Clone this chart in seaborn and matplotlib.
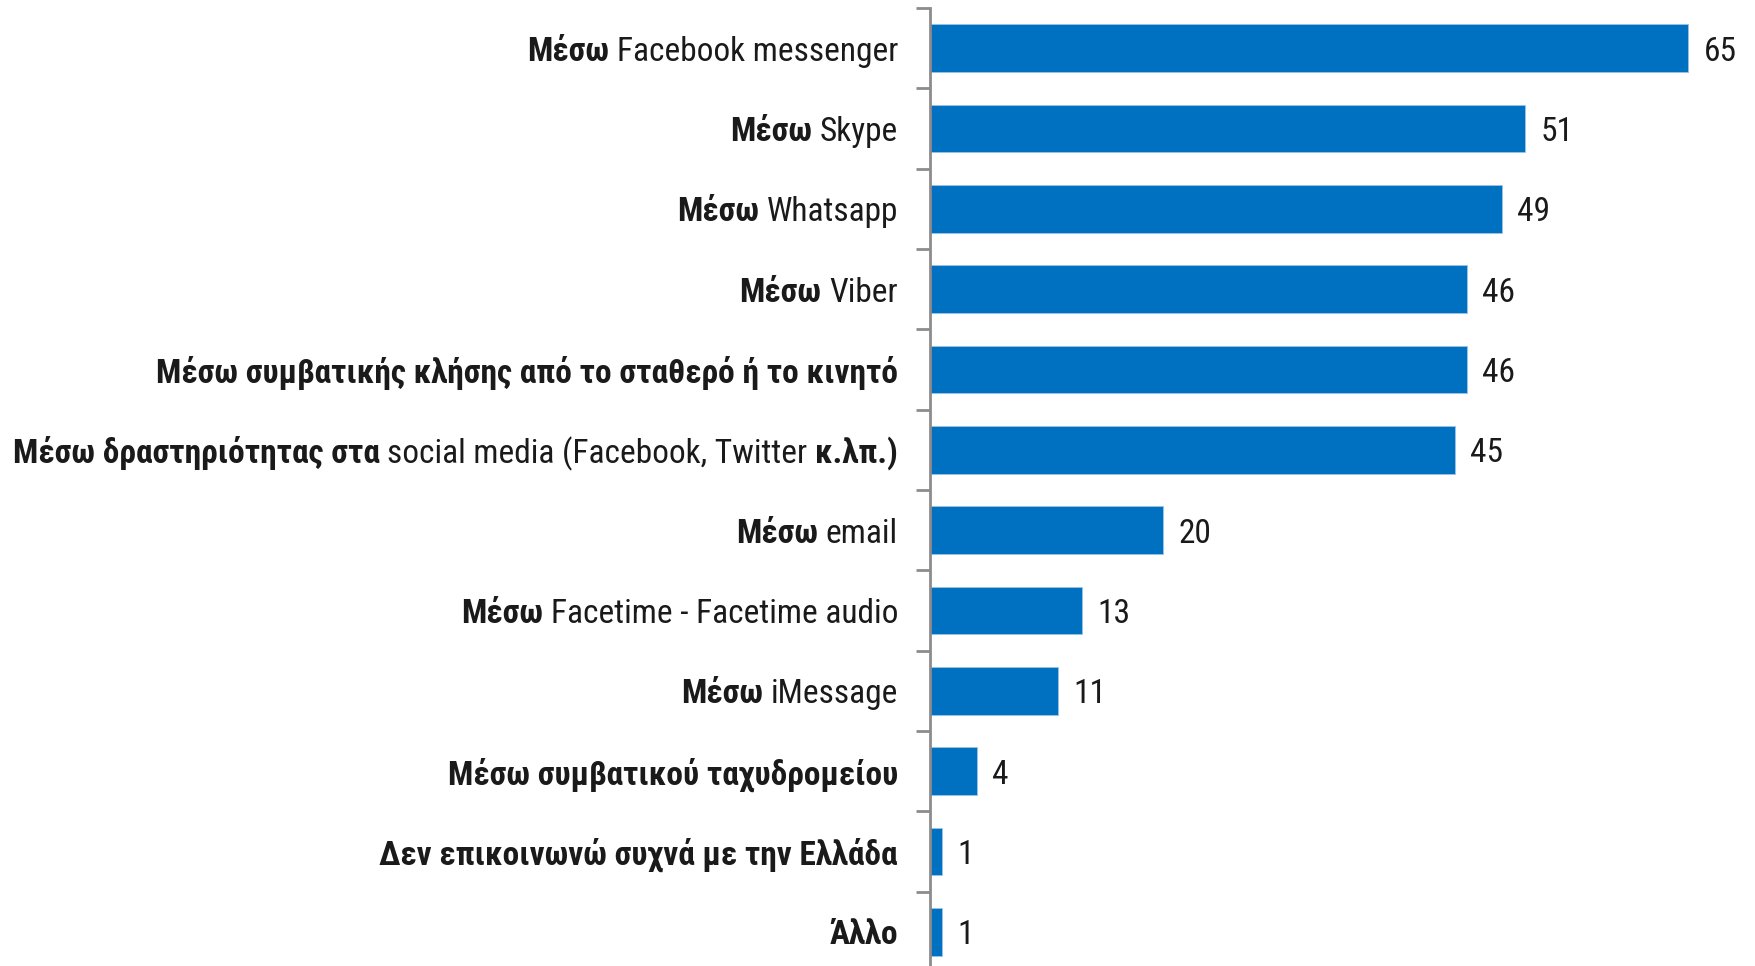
import matplotlib
matplotlib.use("Agg")
import matplotlib.pyplot as plt
import matplotlib.transforms as mtransforms
import seaborn as sns
import pandas as pd

# Data
segments = [
    [("Μέσω", True), ("Facebook messenger", False)],
    [("Μέσω", True), ("Skype", False)],
    [("Μέσω", True), ("Whatsapp", False)],
    [("Μέσω", True), ("Viber", False)],
    [("Μέσω συμβατικής κλήσης από το σταθερό ή το κινητό", True)],
    [("Μέσω δραστηριότητας στα", True), ("social media (Facebook, Twitter", False), ("κ.λπ.)", True)],
    [("Μέσω", True), ("email", False)],
    [("Μέσω", True), ("Facetime - Facetime audio", False)],
    [("Μέσω", True), ("iMessage", False)],
    [("Μέσω συμβατικού ταχυδρομείου", True)],
    [("Δεν επικοινωνώ συχνά με την Ελλάδα", True)],
    [("Άλλο", True)],
]
values = [65, 51, 49, 46, 46, 45, 20, 13, 11, 4, 1, 1]
categories = [" ".join(t for t, b in seg) for seg in segments]

df = pd.DataFrame({"category": categories, "value": values})

sns.set_style("white")
plt.rcParams["font.family"] = ["Roboto Condensed", "DejaVu Sans"]
FS = 24
BLUE = "#0070C0"

fig = plt.figure(figsize=(17.56, 9.66), dpi=100)
ax = fig.add_axes([930 / 1756, -6 / 966, 1 - 930 / 1756, 964 / 966])

sns.barplot(data=df, x="value", y="category", orient="h", color=BLUE,
            saturation=1, width=0.594, edgecolor="#9cc3e6", linewidth=0.6, ax=ax)

ax.set_xlim(0, 70.8)
ax.set_ylim(11.5, -0.5)
ax.set_xlabel("")
ax.set_ylabel("")
ax.set_xticks([])
ax.set_yticks([i - 0.5 for i in range(len(values) + 1)])
ax.set_yticklabels([])
ax.tick_params(axis="y", direction="out", length=10, width=2, color="#8c8c8c", left=True)
for side in ["top", "right", "bottom"]:
    ax.spines[side].set_visible(False)
ax.spines["left"].set_color("#8c8c8c")
ax.spines["left"].set_linewidth(2)

# value labels
ax.bar_label(ax.containers[0], labels=[str(v) for v in values], padding=11,
             fontsize=FS, color="#1a1a1a")
for t in ax.texts:
    t.set_va("center_baseline")

# category labels with mixed bold / regular parts, drawn right to left
fig.canvas.draw()
renderer = fig.canvas.get_renderer()


def text_width(s, bold):
    t = fig.text(0, 0, s, fontsize=FS, fontweight="bold" if bold else "normal")
    w = t.get_window_extent(renderer).width
    t.remove()
    return w


space_w = {b: text_width("a a", b) - text_width("aa", b) for b in (True, False)}

for i, seg in enumerate(segments):
    offset_px = 32
    for j, (txt, bold) in enumerate(reversed(seg)):
        if j > 0:
            offset_px += space_w[bold]
        tr = mtransforms.offset_copy(ax.get_yaxis_transform(), fig=fig,
                                     x=-offset_px * 72 / fig.dpi, y=0, units="points")
        t = ax.text(0, i, txt, transform=tr, ha="right", va="center_baseline",
                    fontsize=FS, fontweight="bold" if bold else "normal",
                    color="#1a1a1a", clip_on=False)
        offset_px += t.get_window_extent(renderer).width

fig.savefig("out.png", dpi=100)
